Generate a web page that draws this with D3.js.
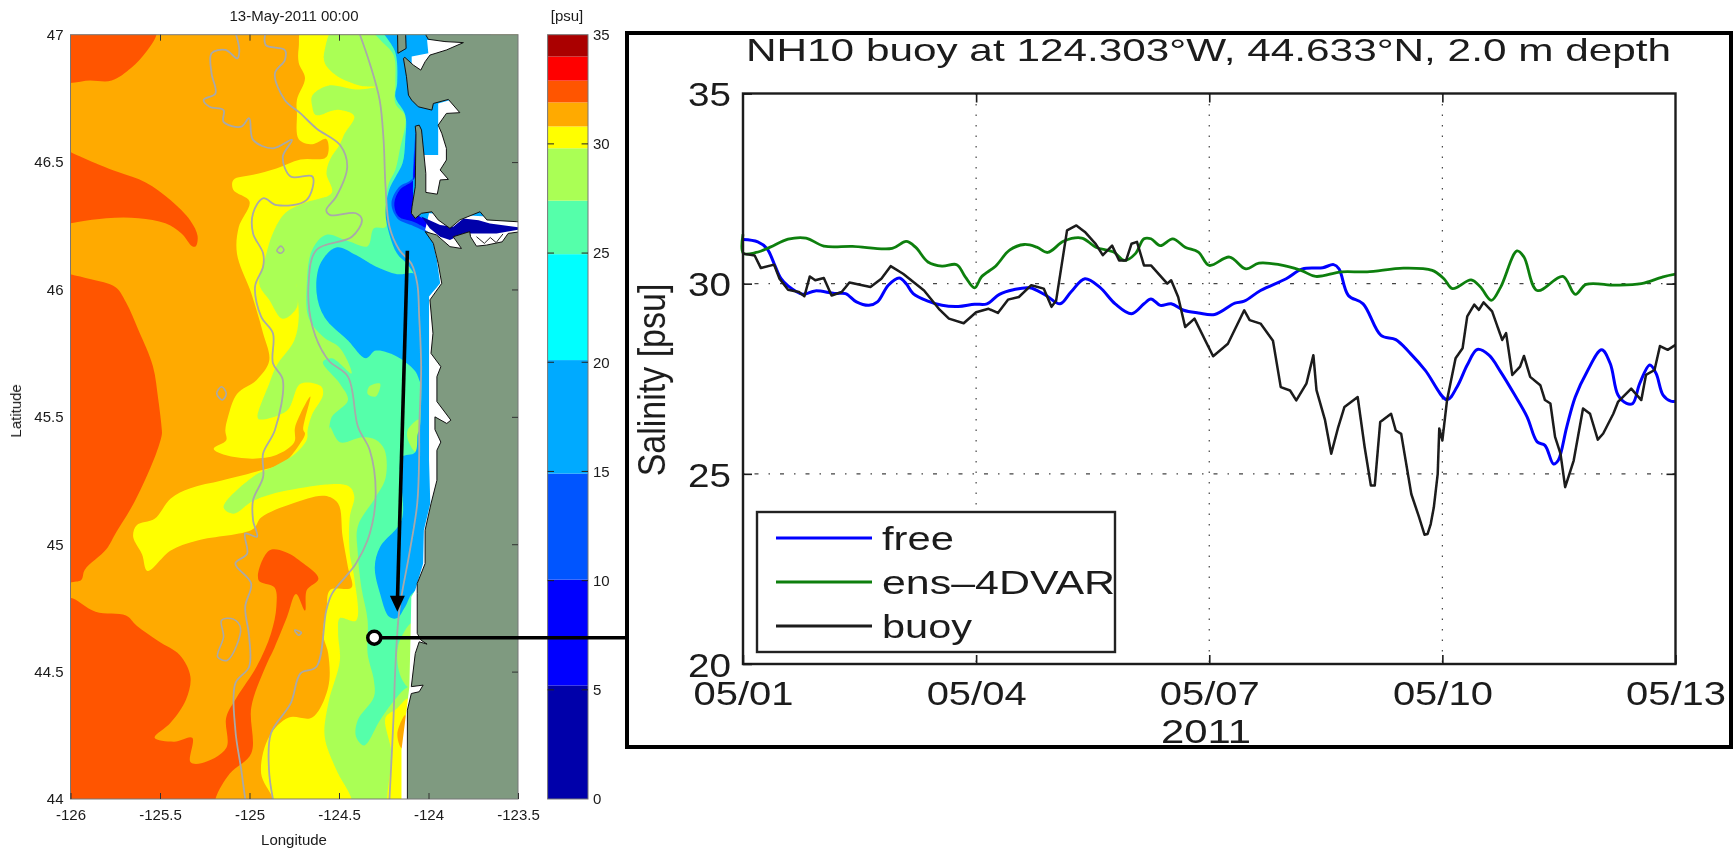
<!DOCTYPE html>
<html><head><meta charset="utf-8">
<script src="https://cdn.jsdelivr.net/npm/d3@7/dist/d3.min.js"></script>
<style>html,body{margin:0;background:#fff}svg{display:block}text{font-family:"Liberation Sans",Arial,sans-serif;fill:#1a1a1a}</style>
</head><body><svg id="c" width="1736" height="849"></svg>
<script>
// ---------- salinity map: contour regions as [lon, lat] ----------
const redTop=[[-126.05,47.05],[-125.52,47.05],[-125.52,47],[-125.58,46.93],[-125.66,46.87],[-125.77,46.82],[-125.89,46.82],[-126.05,46.82]];
const redCrescent=[[-126.05,46.56],[-126,46.54],[-125.84,46.49],[-125.73,46.46],[-125.58,46.42],[-125.44,46.35],[-125.33,46.27],[-125.29,46.21],[-125.30,46.17],[-125.32,46.17],[-125.38,46.22],[-125.47,46.26],[-125.62,46.28],[-125.80,46.28],[-126,46.26],[-126.05,46.25]];
const redWest=[[-126.05,46.07],[-126,46.06],[-125.885,46.04],[-125.75,46.01],[-125.69,45.95],[-125.62,45.84],[-125.54,45.70],[-125.51,45.57],[-125.49,45.45],[-125.49,45.43],[-125.53,45.34],[-125.64,45.17],[-125.75,45.04],[-125.80,44.98],[-125.92,44.90],[-125.94,44.86],[-126,44.85],[-126.05,44.83]];
const redSouth=[[-126.05,44.78],[-126,44.79],[-125.86,44.735],[-125.69,44.72],[-125.63,44.68],[-125.51,44.62],[-125.39,44.565],[-125.33,44.48],[-125.355,44.39],[-125.44,44.30],[-125.53,44.24],[-125.42,44.225],[-125.32,44.24],[-125.33,44.145],[-125.27,44.14],[-125.13,44.20],[-125.13,44.32],[-125.07,44.40],[-124.96,44.52],[-124.88,44.65],[-124.85,44.755],[-124.86,44.83],[-124.95,44.86],[-124.89,44.975],[-124.80,44.97],[-124.70,44.925],[-124.615,44.865],[-124.68,44.82],[-124.69,44.74],[-124.74,44.805],[-124.79,44.715],[-124.86,44.595],[-124.91,44.52],[-124.99,44.36],[-124.99,44.18],[-125.11,44.10],[-125.19,44.0],[-125.19,43.95],[-126.05,43.95]];
const yellowRegion=[[-124.69,47.05],[-124.725,46.95],[-124.725,46.89],[-124.69,46.83],[-124.735,46.745],[-124.735,46.69],[-124.725,46.59],[-124.65,46.57],[-124.57,46.59],[-124.57,46.52],[-124.715,46.51],[-124.85,46.475],[-124.98,46.45],[-125.09,46.43],[-125.09,46.39],[-125.0,46.345],[-125.06,46.245],[-125.07,46.14],[-124.99,45.985],[-124.925,45.83],[-124.89,45.72],[-124.96,45.645],[-125.07,45.59],[-125.12,45.50],[-125.135,45.447],[-125.13,45.408],[-125.20,45.375],[-125.135,45.35],[-124.98,45.336],[-124.85,45.35],[-124.75,45.40],[-124.745,45.46],[-124.66,45.58],[-124.70,45.45],[-124.69,45.434],[-124.725,45.388],[-124.81,45.32],[-124.935,45.29],[-125.155,45.25],[-125.33,45.22],[-125.44,45.18],[-125.53,45.10],[-125.63,45.075],[-125.65,45.03],[-125.60,44.96],[-125.57,44.895],[-125.44,44.975],[-125.29,45.015],[-124.98,45.06],[-124.935,45.105],[-124.76,45.16],[-124.58,45.19],[-124.505,45.16],[-124.48,45.03],[-124.45,44.91],[-124.43,44.83],[-124.55,44.82],[-124.57,44.74],[-124.59,44.65],[-124.56,44.57],[-124.56,44.44],[-124.65,44.32],[-124.78,44.32],[-124.89,44.245],[-124.935,44.10],[-124.87,44.0],[-124.87,43.95],[-123.4,43.95],[-123.4,47.05]];
const greenRegion=[[-124.5,47.05],[-124.58,46.94],[-124.58,46.89],[-124.515,46.84],[-124.38,46.80],[-124.295,46.795],[-124.405,46.785],[-124.56,46.80],[-124.65,46.76],[-124.65,46.72],[-124.63,46.685],[-124.505,46.705],[-124.415,46.68],[-124.47,46.61],[-124.495,46.57],[-124.55,46.51],[-124.57,46.455],[-124.54,46.38],[-124.69,46.34],[-124.80,46.30],[-124.87,46.22],[-124.91,46.13],[-124.945,46.02],[-124.89,45.96],[-124.815,45.885],[-124.735,45.93],[-124.74,46.02],[-124.725,45.89],[-124.75,45.80],[-124.85,45.70],[-124.89,45.63],[-124.955,45.50],[-124.945,45.49],[-124.79,45.525],[-124.715,45.63],[-124.60,45.62],[-124.59,45.585],[-124.65,45.51],[-124.675,45.45],[-124.68,45.41],[-124.745,45.355],[-124.85,45.31],[-124.98,45.265],[-125.145,45.145],[-125.09,45.12],[-124.98,45.17],[-124.80,45.21],[-124.45,45.23],[-124.415,45.19],[-124.44,45.105],[-124.44,44.965],[-124.415,44.87],[-124.405,44.70],[-124.495,44.71],[-124.505,44.65],[-124.495,44.545],[-124.56,44.375],[-124.58,44.245],[-124.515,44.115],[-124.43,44.0],[-124.43,43.95],[-123.4,43.95],[-123.4,47.05]];
const yellowCoast=[[-124.24,44.32],[-124.185,44.35],[-124.107,44.395],[-124.107,43.95],[-124.218,43.95],[-124.207,44.18]];
const orangeCoast=[[-124.174,44.257],[-124.13,44.33],[-124.13,44.205],[-124.151,44.2]];
const seaRegion=[[-124.35,47.05],[-124.27,46.98],[-124.195,46.92],[-124.185,46.81],[-124.185,46.73],[-124.13,46.68],[-124.16,46.55],[-124.185,46.47],[-124.22,46.42],[-124.24,46.35],[-124.24,46.245],[-124.305,46.24],[-124.34,46.17],[-124.45,46.19],[-124.57,46.215],[-124.65,46.155],[-124.68,46.02],[-124.67,45.89],[-124.59,45.815],[-124.495,45.77],[-124.43,45.67],[-124.54,45.73],[-124.59,45.715],[-124.495,45.63],[-124.45,45.565],[-124.54,45.50],[-124.555,45.448],[-124.55,45.46],[-124.495,45.40],[-124.37,45.42],[-124.295,45.41],[-124.245,45.37],[-124.24,45.26],[-124.295,45.185],[-124.395,45.07],[-124.395,44.965],[-124.375,44.83],[-124.34,44.70],[-124.34,44.57],[-124.305,44.465],[-124.305,44.40],[-124.395,44.31],[-124.405,44.245],[-124.36,44.21],[-124.27,44.31],[-124.205,44.375],[-124.115,44.44],[-124.05,44.44],[-123.8,44.44],[-123.8,47.05]];
const greenPatchA=[[-124.27,45.63],[-124.295,45.58],[-124.34,45.59],[-124.33,45.62]];
const greenPatchB=[[-124.115,45.45],[-124.05,45.49],[-124.055,45.41],[-124.07,45.36],[-124.115,45.41]];
const greenPatchC=[[-124.17,44.6],[-124.095,44.69],[-124.095,44.44],[-124.115,44.44],[-124.16,44.49]];
const azureCoast=[[-124.27,47.05],[-124.185,46.93],[-124.175,46.81],[-124.185,46.755],[-124.13,46.685],[-124.13,46.585],[-124.145,46.495],[-124.185,46.44],[-124.22,46.39],[-124.24,46.30],[-124.22,46.22],[-124.175,46.14],[-124.12,46.10],[-124.075,46.05],[-124.05,45.89],[-124.04,45.70],[-124.05,45.45],[-124.06,45.434],[-124.075,45.36],[-124.15,45.34],[-124.15,45.095],[-124.27,44.99],[-124.30,44.91],[-124.27,44.805],[-124.22,44.715],[-124.175,44.71],[-124.13,44.755],[-124.075,44.815],[-123.7,44.815],[-123.7,47.05]];
const azurePatch=[[-124.515,46.165],[-124.405,46.135],[-124.295,46.09],[-124.175,46.06],[-124.075,46.06],[-124.04,45.96],[-124.04,45.63],[-124.075,45.68],[-124.185,45.74],[-124.295,45.76],[-124.35,45.73],[-124.45,45.80],[-124.58,45.89],[-124.625,45.985],[-124.605,46.10]];
const midBlueMouth=[[-124.07,46.65],[-124.085,46.44],[-124.167,46.40],[-124.207,46.338],[-124.174,46.279],[-124.096,46.253],[-123.993,46.227],[-123.993,46.26],[-124.07,46.30]];
const blueMouth=[[-124.063,46.642],[-124.079,46.436],[-124.158,46.393],[-124.191,46.338],[-124.167,46.286],[-124.085,46.266],[-123.993,46.24],[-123.993,46.266],[-124.07,46.30]];
const navyRiver=[[-124.04,46.286],[-123.935,46.253],[-123.862,46.246],[-123.805,46.279],[-123.72,46.272],[-123.657,46.259],[-123.456,46.24],[-123.62,46.22],[-123.75,46.22],[-123.805,46.22],[-123.88,46.194],[-123.935,46.207],[-123.993,46.24]];
const whiteNorth=[[-124.008,46.979],[-123.787,46.979],[-123.898,46.927],[-124.03,46.848],[-124.094,46.881],[-124.094,46.914],[-124.001,46.927]];
const whiteBay=[[-123.946,46.73],[-123.809,46.757],[-123.809,46.685],[-123.875,46.403],[-123.942,46.364],[-124.03,46.364],[-124.03,46.528],[-123.946,46.528]];
const whiteRiver=[[-124.019,46.233],[-123.997,46.299],[-123.478,46.279],[-123.478,46.22],[-123.632,46.168],[-123.853,46.155],[-123.986,46.22]];
const whiteCoast=[[-124.019,46.22],[-123.986,46.22],[-123.953,46.115],[-123.935,46.024],[-123.997,45.972],[-123.997,45.448],[-123.997,45.33],[-123.99,45.16],[-124.026,45.055],[-124.03,44.924],[-124.074,44.82],[-124.096,44.793],[-124.1,44.65],[-124.107,44.44],[-124.118,44.375],[-124.151,44.192],[-124.151,44.0],[-124.151,43.95],[-123.7,43.95],[-123.7,46.22]];
const landNorth=[[-124.015,47.05],[-124.015,46.999],[-124.001,46.982],[-123.908,46.973],[-123.805,46.969],[-123.9,46.94],[-123.992,46.92],[-124.019,46.894],[-124.043,46.861],[-124.085,46.881],[-124.132,46.911],[-124.14,46.907],[-124.123,46.835],[-124.112,46.763],[-124.094,46.743],[-124.057,46.717],[-123.981,46.704],[-123.973,46.73],[-123.889,46.746],[-123.825,46.694],[-123.9,46.691],[-123.946,46.645],[-123.926,46.613],[-123.9,46.554],[-123.9,46.508],[-123.935,46.469],[-123.889,46.432],[-123.935,46.43],[-123.951,46.374],[-124.015,46.381],[-124.015,46.456],[-124.039,46.626],[-124.052,46.645],[-124.074,46.641],[-124.07,46.613],[-124.074,46.403],[-124.092,46.325],[-124.096,46.299],[-124.074,46.279],[-124.039,46.299],[-123.981,46.305],[-123.946,46.273],[-123.88,46.24],[-123.825,46.273],[-123.712,46.305],[-123.674,46.273],[-123.507,46.266],[-123.4,46.26],[-123.4,47.05]];
const landSouth=[[-123.4,46.235],[-123.555,46.22],[-123.588,46.187],[-123.677,46.174],[-123.732,46.17],[-123.765,46.207],[-123.77,46.227],[-123.862,46.207],[-123.816,46.161],[-123.88,46.168],[-123.955,46.214],[-124.019,46.227],[-123.973,46.181],[-123.946,46.102],[-123.926,46.024],[-123.992,45.959],[-123.975,45.828],[-123.986,45.749],[-123.931,45.697],[-123.953,45.658],[-123.953,45.56],[-123.875,45.487],[-123.898,45.474],[-123.964,45.5],[-123.964,45.45],[-123.931,45.401],[-123.953,45.369],[-123.953,45.251],[-123.986,45.159],[-124.019,45.055],[-124.019,44.924],[-124.063,44.846],[-124.063,44.806],[-124.063,44.65],[-124.041,44.623],[-124.008,44.608],[-124.052,44.617],[-124.074,44.571],[-124.096,44.441],[-124.03,44.447],[-124.052,44.421],[-124.096,44.414],[-124.118,44.349],[-124.118,44.0],[-124.118,43.95],[-123.4,43.95]];
const landIslet=[[-124.174,47.05],[-124.13,47.05],[-124.125,46.946],[-124.171,46.927]];
const riverIslands=[[-123.732,46.207],[-123.688,46.181],[-123.655,46.204],[-123.622,46.184],[-123.584,46.218]];
// isobaths
const isoNear=[[-124.383,47.0],[-124.328,46.887],[-124.273,46.744],[-124.251,46.587],[-124.24,46.403],[-124.218,46.246],[-124.163,46.155],[-124.096,46.102],[-124.063,46.024],[-124.052,45.893],[-124.041,45.697],[-124.052,45.448],[-124.052,45.356],[-124.063,45.159],[-124.107,44.963],[-124.163,44.741],[-124.185,44.519],[-124.196,44.31],[-124.218,44.0]];
const isoMid=[[-124.913,47.0],[-124.909,46.959],[-124.803,46.94],[-124.803,46.9],[-124.858,46.848],[-124.803,46.744],[-124.715,46.691],[-124.626,46.632],[-124.494,46.567],[-124.454,46.482],[-124.516,46.364],[-124.571,46.312],[-124.549,46.292],[-124.405,46.299],[-124.372,46.273],[-124.428,46.207],[-124.626,46.155],[-124.67,46.024],[-124.648,45.854],[-124.56,45.723],[-124.45,45.658],[-124.394,45.461],[-124.328,45.369],[-124.295,45.199],[-124.328,45.042],[-124.405,44.924],[-124.538,44.807],[-124.571,44.741],[-124.626,44.519],[-124.715,44.493],[-124.77,44.375],[-124.88,44.258],[-124.891,44.114],[-124.869,44.0]];
const isoFar=[[-125.075,47],[-125.057,46.94],[-125.068,46.907],[-125.134,46.94],[-125.212,46.927],[-125.212,46.848],[-125.19,46.77],[-125.256,46.744],[-125.223,46.717],[-125.145,46.704],[-125.145,46.658],[-125.046,46.639],[-125.002,46.672],[-124.98,46.587],[-124.869,46.554],[-124.763,46.587],[-124.814,46.521],[-124.77,46.443],[-124.648,46.443],[-124.682,46.351],[-124.847,46.331],[-124.924,46.358],[-124.98,46.299],[-124.98,46.22],[-124.924,46.142],[-124.924,46.089],[-124.969,46.011],[-124.935,45.893],[-124.869,45.828],[-124.869,45.71],[-124.814,45.645],[-124.858,45.448],[-124.924,45.356],[-124.924,45.264],[-124.98,45.173],[-124.98,45.094],[-124.958,45.029],[-125.024,45.042],[-125.013,44.963],[-125.079,44.924],[-124.991,44.846],[-125.024,44.754],[-125.002,44.637],[-125.002,44.519],[-125.079,44.454],[-125.079,44.271],[-125.046,44.114],[-125.024,44.0]];
const isoLoops=[[[-124.825,46.17],[-124.808,46.155],[-124.825,46.142],[-124.847,46.152]],[[-125.156,45.618],[-125.13,45.592],[-125.152,45.566],[-125.183,45.592]],[[-125.156,44.702],[-125.09,44.706],[-125.05,44.67],[-125.123,44.545],[-125.178,44.558],[-125.145,44.637]],[[-124.748,44.663],[-124.71,44.654],[-124.726,44.643]]];
const buoyPos=[-124.303,44.633];
const transectStart=[-124.118,46.152], transectEnd=[-124.174,44.735];
// colour bar
const psuEdges=[0,5.2,10.05,14.9,20.1,24.95,27.4,29.8,30.8,31.9,32.9,34,35];
const psuColors=["#0000aa","#0000ff","#0055ff","#00aaff","#00ffff","#55ffaa","#aaff55","#ffff00","#ffaa00","#ff5500","#ff0000","#aa0000"];
const psuTicks=[0,5,10,15,20,25,30,35];
const lonTicks=[-126,-125.5,-125,-124.5,-124,-123.5];
const latTicks=[44,44.5,45,45.5,46,46.5,47];
// ---------- time series: [days since 05/01, salinity] ----------
const dayTicks=[0,3,6,9,12];
const dayLabels=["05/01","05/04","05/07","05/10","05/13"];
const salTicks=[20,25,30,35];
const freeRun=[[0,31.16],[.19,31.10],[.31,30.92],[.40,30.53],[.49,30.13],[.58,29.94],[.77,29.72],[.93,29.81],[1.18,29.74],[1.32,29.74],[1.46,29.52],[1.62,29.43],[1.73,29.52],[1.87,29.96],[2.01,30.15],[2.10,30.0],[2.19,29.74],[2.38,29.54],[2.56,29.43],[2.77,29.40],[2.98,29.46],[3.14,29.47],[3.30,29.72],[3.48,29.84],[3.69,29.89],[3.90,29.69],[4.08,29.47],[4.22,29.78],[4.40,30.13],[4.59,29.91],[4.79,29.47],[5.00,29.21],[5.16,29.47],[5.25,29.6],[5.37,29.43],[5.51,29.47],[5.67,29.30],[5.86,29.23],[6.07,29.19],[6.33,29.49],[6.45,29.54],[6.66,29.82],[6.99,30.13],[7.20,30.39],[7.46,30.42],[7.60,30.5],[7.67,30.39],[7.79,29.69],[7.98,29.47],[8.21,28.64],[8.40,28.53],[8.59,28.16],[8.78,27.72],[9.06,26.95],[9.19,27.29],[9.32,27.86],[9.45,28.27],[9.60,28.12],[9.75,27.68],[9.92,27.11],[10.09,26.50],[10.22,25.84],[10.32,25.75],[10.43,25.26],[10.49,25.35],[10.60,26.23],[10.71,27.02],[10.86,27.68],[11.05,28.26],[11.16,27.9],[11.26,27.07],[11.37,26.85],[11.45,26.85],[11.54,27.38],[11.67,27.86],[11.75,27.64],[11.84,27.07],[11.94,26.91],[12,26.91]];
const ensRun=[[0,31.3],[.005,30.8],[.17,30.82],[.35,30.96],[.58,31.17],[.81,31.20],[1.04,30.99],[1.41,30.98],[1.92,30.93],[2.10,31.11],[2.22,30.96],[2.38,30.57],[2.56,30.46],[2.75,30.5],[2.86,30.18],[2.98,29.89],[3.07,30.18],[3.25,30.46],[3.43,30.88],[3.62,31.03],[3.78,30.96],[3.92,30.82],[4.13,31.12],[4.36,31.2],[4.54,30.96],[4.77,30.83],[4.91,30.61],[5.05,30.79],[5.16,31.18],[5.25,31.18],[5.37,31.0],[5.53,31.18],[5.69,30.96],[5.86,30.83],[6.0,30.48],[6.26,30.7],[6.47,30.39],[6.64,30.54],[6.9,30.5],[7.18,30.35],[7.37,30.19],[7.70,30.31],[8.03,30.31],[8.5,30.41],[8.87,30.35],[9.02,30.13],[9.13,29.87],[9.37,30.1],[9.49,29.91],[9.63,29.56],[9.75,29.91],[9.96,30.86],[10.05,30.7],[10.22,29.82],[10.55,30.19],[10.71,29.72],[10.85,29.98],[11.23,29.96],[11.56,30],[11.84,30.18],[12,30.25]];
const buoyObs=[[0,30.79],[.15,30.74],[.23,30.41],[.40,30.5],[.47,30.13],[.58,29.84],[.72,29.78],[.79,29.67],[.86,30.19],[.93,30.09],[1.04,30.15],[1.14,29.69],[1.27,29.78],[1.37,30.03],[1.64,29.91],[1.78,30.13],[1.90,30.46],[2.06,30.26],[2.33,29.82],[2.52,29.34],[2.65,29.08],[2.84,28.96],[3.0,29.25],[3.16,29.34],[3.28,29.23],[3.41,29.58],[3.55,29.65],[3.71,29.96],[3.87,29.87],[3.97,29.39],[4.03,29.56],[4.17,31.4],[4.29,31.53],[4.40,31.36],[4.54,31.04],[4.63,30.75],[4.75,31.0],[4.84,30.61],[4.93,30.61],[5.0,31.05],[5.07,31.1],[5.16,30.48],[5.25,30.48],[5.46,30.0],[5.51,30.09],[5.6,29.65],[5.69,28.86],[5.81,29.08],[6.05,28.09],[6.24,28.42],[6.45,29.3],[6.52,29.04],[6.66,28.95],[6.82,28.5],[6.92,27.28],[7.04,27.19],[7.12,26.93],[7.25,27.37],[7.34,28.12],[7.38,27.2],[7.49,26.41],[7.57,25.53],[7.66,26.23],[7.74,26.76],[7.91,27.02],[8.0,25.7],[8.08,24.69],[8.13,24.69],[8.2,26.36],[8.34,26.58],[8.4,26.14],[8.47,26.05],[8.6,24.47],[8.7,23.86],[8.77,23.4],[8.81,23.42],[8.85,23.68],[8.89,24.12],[8.94,25.0],[8.96,26.19],[9.0,25.88],[9.06,26.94],[9.17,28.04],[9.26,28.3],[9.32,29.14],[9.41,29.45],[9.47,29.31],[9.53,29.51],[9.64,29.27],[9.77,28.52],[9.82,28.7],[9.9,27.6],[10.0,27.82],[10.05,28.1],[10.13,27.55],[10.26,27.33],[10.32,26.94],[10.39,26.85],[10.45,25.97],[10.52,25.53],[10.58,24.65],[10.69,25.35],[10.81,26.72],[10.9,26.58],[11.0,25.9],[11.07,26.06],[11.2,26.58],[11.26,26.89],[11.43,27.24],[11.56,26.94],[11.62,27.6],[11.73,27.73],[11.8,28.36],[11.9,28.26],[12,28.39]];
const seriesNames=["free","ens\u20134DVAR","buoy"];
const seriesColors=["#0000ff","#0d7f0d","#1a1a1a"];

const svg=d3.select("#c");
const defs=svg.append("defs");
defs.append("filter").attr("id","soft").attr("x","-2%").attr("y","-2%").attr("width","104%").attr("height","104%")
  .append("feGaussianBlur").attr("stdDeviation",0.6);
defs.append("clipPath").attr("id","mapClip").append("rect").attr("x",70.5).attr("y",34.7).attr("width",447.5).attr("height",764.3);

// ---------- map ----------
const X=d3.scaleLinear().domain([-126,-123.5]).range([70.5,518]);
const Y=d3.scaleLinear().domain([44,47]).range([799,34.7]);
const smooth=d3.line().x(d=>X(d[0])).y(d=>Y(d[1])).curve(d3.curveCatmullRomClosed.alpha(0.5));
const straight=d3.line().x(d=>X(d[0])).y(d=>Y(d[1])).curve(d3.curveLinearClosed);
const openCurve=d3.line().x(d=>X(d[0])).y(d=>Y(d[1])).curve(d3.curveCatmullRom.alpha(0.5));
const leftPanel=svg.append("g").attr("filter","url(#soft)");
const m=leftPanel.append("g").attr("clip-path","url(#mapClip)");
m.append("rect").attr("x",X(-126)).attr("y",Y(47)).attr("width",X(-123.5)-X(-126)).attr("height",Y(44)-Y(47)).attr("fill",psuColors[8]);
const fills=[[redTop,psuColors[9]],[redCrescent,psuColors[9]],[redWest,psuColors[9]],[yellowRegion,psuColors[7]],[redSouth,psuColors[9]],
 [greenRegion,psuColors[6]],[yellowCoast,psuColors[7]],[orangeCoast,psuColors[8]],[seaRegion,psuColors[5]],[greenPatchA,psuColors[6]],[greenPatchB,psuColors[6]],[greenPatchC,psuColors[6]],
 [azureCoast,psuColors[3]],[azurePatch,psuColors[3]],[midBlueMouth,psuColors[2]],[blueMouth,psuColors[1]]];
fills.forEach(([p,c])=>m.append("path").attr("d",smooth(p)).attr("fill",c));
[whiteNorth,whiteBay,whiteRiver,whiteCoast].forEach(p=>m.append("path").attr("d",straight(p)).attr("fill","#fff"));
m.append("path").attr("d",straight(navyRiver)).attr("fill",psuColors[0]);
[landNorth,landSouth,landIslet].forEach(p=>m.append("path").attr("d",straight(p)).attr("fill","#7f9a80").attr("stroke","#111").attr("stroke-width",1));
m.append("path").attr("d",d3.line().x(d=>X(d[0])).y(d=>Y(d[1]))(riverIslands)).attr("fill","none").attr("stroke","#222").attr("stroke-width",1);
[isoNear,isoMid,isoFar].forEach(p=>m.append("path").attr("d",openCurve(p)).attr("fill","none").attr("stroke","#a9a9a9").attr("stroke-width",1.8));
isoLoops.forEach(p=>m.append("path").attr("d",smooth(p)).attr("fill","none").attr("stroke","#a9a9a9").attr("stroke-width",1.6));

// map frame + axes
function mapAxes(g){
  g.append("rect").attr("x",X(-126)).attr("y",Y(47)).attr("width",X(-123.5)-X(-126)).attr("height",Y(44)-Y(47)).attr("fill","none").attr("stroke","#777").attr("stroke-width",1);
  const lonFmt=d=>String(d), font=15;
  const b=g.append("g").attr("transform",`translate(0,${Y(44)})`).call(d3.axisBottom(X).tickValues(lonTicks).tickSizeInner(-6).tickSizeOuter(0).tickPadding(10).tickFormat(lonFmt));
  const t=g.append("g").attr("transform",`translate(0,${Y(47)})`).call(d3.axisTop(X).tickValues(lonTicks.slice(1,4)).tickSizeInner(-6).tickSizeOuter(0).tickFormat(""));
  const r=g.append("g").attr("transform",`translate(${X(-123.5)},0)`).call(d3.axisRight(Y).tickValues(latTicks.slice(1,-1)).tickSizeInner(-6).tickSizeOuter(0).tickFormat(""));
  const l=g.append("g").attr("transform",`translate(${X(-126)},0)`).call(d3.axisLeft(Y).tickValues(latTicks).tickSize(0).tickPadding(7).tickFormat(d=>String(d)));
  [b,t,r,l].forEach(a=>{a.select(".domain").remove();a.selectAll("line").attr("stroke","#333").attr("stroke-width",1);a.selectAll("text").style("font-size",font+"px").attr("fill","#1a1a1a");a.attr("font-family",null)});
  g.append("text").attr("x",294).attr("y",21).attr("text-anchor","middle").style("font-size","15px").text("13-May-2011 00:00");
  g.append("text").attr("x",294).attr("y",845).attr("text-anchor","middle").style("font-size","15px").text("Longitude");
  g.append("text").attr("transform",`translate(21,${Y(45.5)-6}) rotate(-90)`).attr("text-anchor","middle").style("font-size","15px").text("Latitude");
  g.append("text").attr("x",567).attr("y",21).attr("text-anchor","middle").style("font-size","15px").text("[psu]");
}
mapAxes(leftPanel);

// colour bar
const P=d3.scaleLinear().domain([0,35]).range([799,34.7]);
const cb=leftPanel.append("g");
psuColors.forEach((c,i)=>cb.append("rect").attr("x",547.6).attr("width",40.4).attr("y",P(psuEdges[i+1])).attr("height",P(psuEdges[i])-P(psuEdges[i+1])).attr("fill",c));
cb.append("rect").attr("x",547.6).attr("width",40.4).attr("y",P(35)).attr("height",P(0)-P(35)).attr("fill","none").attr("stroke","#777").attr("stroke-width",1);
const cba=cb.append("g").attr("transform","translate(588,0)").call(d3.axisRight(P).tickValues(psuTicks).tickSizeInner(0).tickSizeOuter(0).tickPadding(5).tickFormat(d=>String(d)));
cba.select(".domain").remove();cba.selectAll("text").style("font-size","15px").attr("fill","#1a1a1a");
psuTicks.slice(1,-1).forEach(v=>{
  cb.append("line").attr("x1",547.6).attr("x2",554).attr("y1",P(v)).attr("y2",P(v)).attr("stroke","#222");
  cb.append("line").attr("x1",581.6).attr("x2",588).attr("y1",P(v)).attr("y2",P(v)).attr("stroke","#222");
});

// ---------- inset ----------
const rightPanel=svg.append("g");
rightPanel.append("rect").attr("x",627).attr("y",33).attr("width",1104).attr("height",714).attr("fill","#fff").attr("stroke","#000").attr("stroke-width",4);
const panel=rightPanel.append("g").attr("filter","url(#soft)");
const tx=d3.scaleLinear().domain([0,12]).range([743,1675.5]);
const ty=d3.scaleLinear().domain([20,35]).range([664,93.5]);
const fit=(sel,w)=>sel.attr("textLength",w).attr("lengthAdjust","spacingAndGlyphs");
fit(panel.append("text").attr("x",746).attr("y",61).style("font-size","32px").text("NH10 buoy at 124.303\u00b0W, 44.633\u00b0N, 2.0 m depth"),925);
panel.append("text").attr("transform","translate(665,380) rotate(-90) scale(1,1.15)").attr("text-anchor","middle").style("font-size","34px").text("Salinity [psu]");
fit(panel.append("text").attr("x",1206).attr("y",743).attr("text-anchor","middle").style("font-size","34px").text("2011"),90);

// grid
dayTicks.slice(1,-1).forEach(d=>panel.append("line").attr("x1",tx(d)).attr("x2",tx(d)).attr("y1",ty(35)).attr("y2",ty(20)).attr("stroke","#444").attr("stroke-width",1.2).attr("stroke-dasharray","1.5 9"));
salTicks.slice(1,-1).forEach(v=>panel.append("line").attr("x1",tx(0)).attr("x2",tx(12)).attr("y1",ty(v)).attr("y2",ty(v)).attr("stroke","#444").attr("stroke-width",1.2).attr("stroke-dasharray","1.5 10 4 10"));

// series
const tsSmooth=d3.line().x(d=>tx(d[0])).y(d=>ty(d[1])).curve(d3.curveCatmullRom.alpha(0.5));
const tsRaw=d3.line().x(d=>tx(d[0])).y(d=>ty(d[1]));
panel.append("path").attr("d",tsSmooth(freeRun)).attr("fill","none").attr("stroke",seriesColors[0]).attr("stroke-width",3);
panel.append("path").attr("d",tsSmooth(ensRun)).attr("fill","none").attr("stroke",seriesColors[1]).attr("stroke-width",2.8);
panel.append("path").attr("d",tsRaw(buoyObs)).attr("fill","none").attr("stroke",seriesColors[2]).attr("stroke-width",2.5).attr("stroke-linejoin","round");

// axes
panel.append("rect").attr("x",tx(0)).attr("y",ty(35)).attr("width",tx(12)-tx(0)).attr("height",ty(20)-ty(35)).attr("fill","none").attr("stroke","#1a1a1a").attr("stroke-width",2.4);
const ax=panel.append("g").attr("transform",`translate(0,${ty(20)})`).call(d3.axisBottom(tx).tickValues(dayTicks).tickSizeInner(-9).tickSizeOuter(0).tickPadding(13).tickFormat((d,i)=>dayLabels[i]));
const ay=panel.append("g").attr("transform",`translate(${tx(0)},0)`).call(d3.axisLeft(ty).tickValues(salTicks).tickSizeInner(-9).tickSizeOuter(0).tickPadding(12).tickFormat(d=>String(d)));
const ar=panel.append("g").attr("transform",`translate(${tx(12)},0)`).call(d3.axisRight(ty).tickValues(salTicks.slice(1,-1)).tickSizeInner(-9).tickSizeOuter(0).tickFormat(""));
const at=panel.append("g").attr("transform",`translate(0,${ty(35)})`).call(d3.axisTop(tx).tickValues(dayTicks.slice(1,-1)).tickSizeInner(-9).tickSizeOuter(0).tickFormat(""));
[ax,ay,ar,at].forEach(a=>{a.select(".domain").remove();a.selectAll("line").attr("stroke","#1a1a1a").attr("stroke-width",1.6)});
ax.selectAll("text").style("font-size","34px").attr("fill","#1a1a1a").attr("textLength",100).attr("lengthAdjust","spacingAndGlyphs").attr("y",null).attr("dy",null).attr("transform","translate(0,41)");
ay.selectAll("text").style("font-size","34px").attr("fill","#1a1a1a").attr("textLength",43).attr("lengthAdjust","spacingAndGlyphs").attr("dy","0.36em");

// legend
panel.append("rect").attr("x",757).attr("y",512).attr("width",358).attr("height",140).attr("fill","#fff").attr("stroke","#222").attr("stroke-width",2.4);
const legY=d3.scalePoint().domain(seriesNames).range([538,626]);
const legW=[72,233,90];
seriesNames.forEach((n,i)=>{
  panel.append("line").attr("x1",776).attr("x2",872).attr("y1",legY(n)).attr("y2",legY(n)).attr("stroke",seriesColors[i]).attr("stroke-width",2.8);
  fit(panel.append("text").attr("x",882).attr("y",legY(n)+12).style("font-size","34px").text(n),legW[i]);
});

// connector, transect arrow, buoy marker (on top of everything)
const overlay=svg.append("g");
overlay.append("line").attr("x1",X(buoyPos[0])).attr("y1",Y(buoyPos[1])).attr("x2",629).attr("y2",Y(buoyPos[1])).attr("stroke","#000").attr("stroke-width",3.5);
const tip=[X(transectEnd[0]),Y(transectEnd[1])];
overlay.append("line").attr("x1",X(transectStart[0])).attr("y1",Y(transectStart[1])).attr("x2",tip[0]).attr("y2",tip[1]-8).attr("stroke","#000").attr("stroke-width",3.6);
overlay.append("path").attr("d",`M${tip[0]},${tip[1]}L${tip[0]-7.5},${tip[1]-16}L${tip[0]+7.5},${tip[1]-16}Z`).attr("fill","#000");
overlay.append("circle").attr("cx",X(buoyPos[0])).attr("cy",Y(buoyPos[1])).attr("r",6.5).attr("fill","#fff").attr("stroke","#000").attr("stroke-width",3.5);
</script></body></html>
